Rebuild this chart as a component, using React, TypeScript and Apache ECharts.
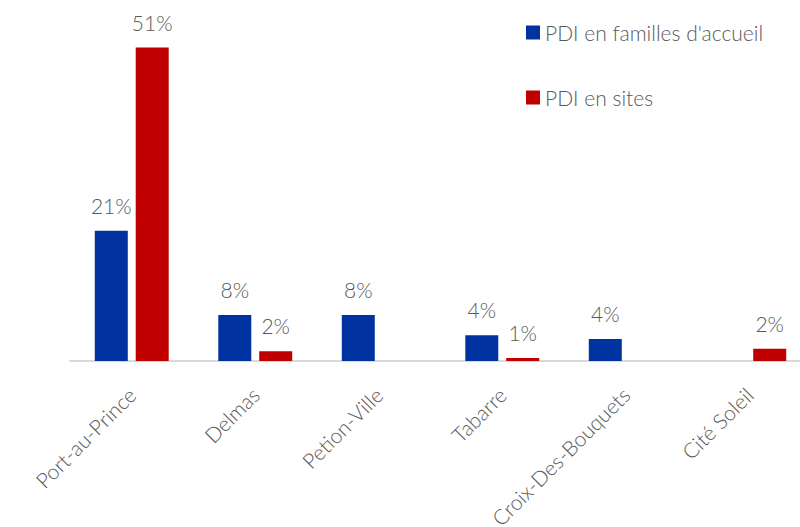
import React, { useEffect, useRef } from "react";
import * as echarts from "echarts";

const categories = ["Port-au-Prince", "Delmas", "Petion-Ville", "Tabarre", "Croix-Des-Bouquets", "Cité Soleil"];
const familles = [21.2, 7.5, 7.5, 4.2, 3.6, null];
const sites = [51, 1.6, null, 0.5, null, 2.0];
const seriesNames = ["PDI en familles d'accueil", "PDI en sites"];

const FONT = "Lato, 'Open Sans', sans-serif";
const GRAY = "#595959";

export default function App() {
  const ref = useRef<HTMLDivElement>(null);
  useEffect(() => {
    const chart = echarts.init(ref.current!, null, { renderer: "svg" });
    const label = {
      show: true,
      position: "top" as const,
      distance: 15,
      color: GRAY,
      fontFamily: FONT,
      fontWeight: 300,
      fontSize: 21,
      formatter: (p: any) => Math.round(p.value) + "%",
    };
    chart.setOption({
      animation: false,
      textStyle: { fontFamily: FONT },
      legend: {
        orient: "vertical",
        left: 521,
        top: 17,
        itemWidth: 14,
        itemHeight: 14,
        itemGap: 44,
        icon: "rect",
        textStyle: { color: GRAY, fontSize: 21, fontWeight: 300, fontFamily: FONT, padding: [0, 0, 0, 0] },
        data: seriesNames,
      },
      grid: { left: 70, right: -11, top: 23, bottom: 166, containLabel: false, outerBoundsMode: "none" },
      xAxis: {
        type: "category",
        data: categories,
        axisLine: { lineStyle: { color: "#d9d9d9", width: 2 } },
        axisTick: { show: false },
        axisLabel: { rotate: 45, color: GRAY, fontSize: 21, fontWeight: 300, fontFamily: FONT, margin: 30, interval: 0 },
      },
      yAxis: { type: "value", min: 0, max: 55, show: false, splitLine: { show: false } },
      series: [
        {
          name: seriesNames[0],
          type: "bar",
          data: familles,
          barWidth: 33,
          barGap: "24%",
          itemStyle: { color: "#0033a0" },
          label,
        },
        {
          name: seriesNames[1],
          type: "bar",
          data: sites,
          barWidth: 33,
          barGap: "24%",
          itemStyle: { color: "#c00000" },
          label,
        },
      ],
    });
    return () => chart.dispose();
  }, []);
  return <div ref={ref} style={{ position: "fixed", left: 0, top: 0, width: 800, height: 527, background: "#fff" }} />;
}
